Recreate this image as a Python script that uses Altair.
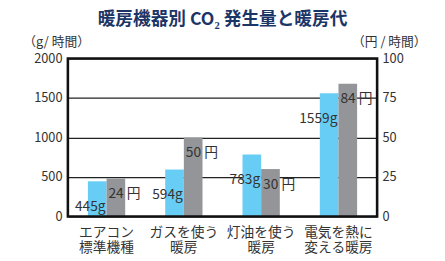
import altair as alt
import pandas as pd

categories = ["エアコン\n標準機種", "ガスを使う\n暖房", "灯油を使う\n暖房", "電気を熱に\n変える暖房"]
co2_g = [445, 594, 783, 1559]
cost_yen = [24, 50, 30, 84]
co2_labels = ["445g", "594g", "783g", "1559g"]
cost_labels = ["24 円", "50 円", "30 円", "84 円"]

df = pd.DataFrame({
    "cat": categories,
    "co2": co2_g,
    "cost": cost_yen,
    "co2_lab": co2_labels,
    "cost_lab": cost_labels,
})

FONT = "Noto Sans CJK JP"
CYAN = "#68CDF5"
GRAY = "#939598"
TXT = "#333333"
W, H = 315, 161

xenc = alt.X("cat:N", sort=categories, title=None,
             scale=alt.Scale(paddingInner=0.52, paddingOuter=0.26),
             axis=alt.Axis(labelExpr="split(datum.label, '\\n')", labelAngle=0,
                           labelFontSize=14, labelFont=FONT, labelColor=TXT,
                           labelLineHeight=16, labelPadding=9, ticks=False,
                           domain=False, labelBaseline="top"))

yleft = alt.Y("co2:Q", scale=alt.Scale(domain=[0, 2000]),
              axis=alt.Axis(values=[0, 500, 1000, 1500, 2000], format="d", title="（g/ 時間）",
                            titleAngle=0, titleX=-46, titleY=-17, titleAlign="left",
                            titleBaseline="middle",
                            titleFontWeight="normal", titleFont=FONT, titleFontSize=13,
                            titleColor=TXT, labelFont=FONT, labelFontSize=13,
                            labelColor=TXT, ticks=False, domain=False, labelPadding=6,
                            grid=True, gridColor="#222222", gridWidth=1.2))

yright = alt.Y("cost:Q", scale=alt.Scale(domain=[0, 100]),
               axis=alt.Axis(orient="right", values=[0, 25, 50, 75, 100], format="d",
                             title="（円 / 時間）",
                             titleAngle=0, titleX=-26, titleY=-17, titleAlign="left",
                             titleBaseline="middle",
                             titleFontWeight="normal", titleFont=FONT, titleFontSize=13,
                             titleColor=TXT, labelFont=FONT, labelFontSize=13,
                             labelColor=TXT, ticks=False, domain=False, labelPadding=5,
                             grid=False))

base = alt.Chart(df)

bar_left = base.mark_bar(color=CYAN, width=19, xOffset=-9.5).encode(x=xenc, y=yleft)
bar_right = base.mark_bar(color=GRAY, width=19, xOffset=9.5).encode(x=xenc, y=yright)
txt_left = base.mark_text(font=FONT, fontSize=14, color=TXT, align="right", baseline="middle",
                          dx=-1, dy=26).encode(
    x=xenc, y=alt.Y("co2:Q", scale=alt.Scale(domain=[0, 2000]), axis=None), text="co2_lab:N")
txt_right = base.mark_text(font=FONT, fontSize=14, color=TXT, align="left", baseline="middle",
                           dx=2, dy=16).encode(
    x=xenc, y=alt.Y("cost:Q", scale=alt.Scale(domain=[0, 100]), axis=None), text="cost_lab:N")

frame = alt.Chart(pd.DataFrame({"k": [0]})).mark_rect(
    filled=False, stroke="#111111", strokeWidth=2.6).encode(
    x=alt.value(0), x2=alt.value(W), y=alt.value(0), y2=alt.value(H))

chart = alt.layer(bar_left, bar_right, txt_left, txt_right, frame).resolve_scale(
    y="independent").properties(
    width=W, height=H,
    autosize=alt.AutoSizeParams(type="none"),
    padding={"left": 61, "top": 49, "right": 61, "bottom": 43},
    title=alt.TitleParams("暖房機器別 CO₂ 発生量と暖房代", font=FONT, fontSize=18,
                          fontWeight="bold", color="#1C3567", anchor="middle", offset=7),
).configure_view(stroke=None).configure(background="white")

chart.save("out.html", embed_options={"renderer": "svg", "actions": False})
